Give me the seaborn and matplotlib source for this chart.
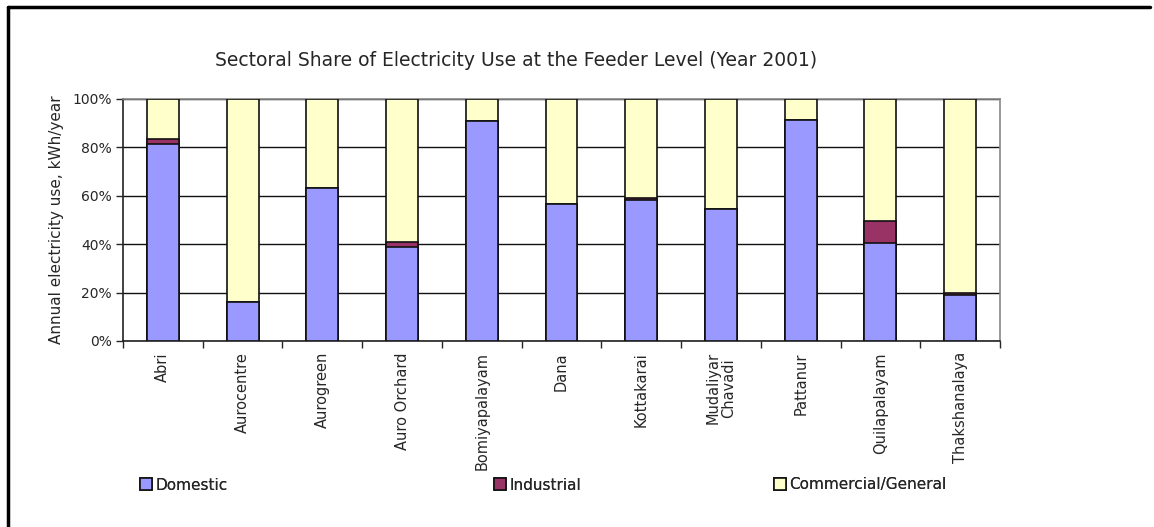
import numpy as np
import pandas as pd
import matplotlib
matplotlib.use("Agg")
import matplotlib.pyplot as plt
from matplotlib.lines import Line2D
from matplotlib.patches import Patch
import seaborn as sns

feeders = ["Abri", "Aurocentre", "Aurogreen", "Auro Orchard", "Bomiyapalayam", "Dana",
           "Kottakarai", "Mudaliyar\nChavadi", "Pattanur", "Quilapalayam", "Thakshanalaya"]
domestic = [81.3, 16.1, 63.4, 38.8, 90.9, 56.5, 58.1, 54.7, 91.5, 40.5, 18.9]
industrial = [2.3, 0.0, 0.0, 2.2, 0.0, 0.0, 1.1, 0.0, 0.0, 8.9, 1.1]
commercial = [round(100 - d - i, 1) for d, i in zip(domestic, industrial)]
y_ticks = [0, 20, 40, 60, 80, 100]
y_tick_labels = ["0%", "20%", "40%", "60%", "80%", "100%"]

c_dom = "#9999ff"
c_ind = "#993366"
c_com = "#ffffcc"

sns.set_style("white")
plt.rcParams['font.family'] = ['DejaVu Sans']

df = pd.DataFrame({"feeder": feeders, "Domestic": domestic,
                   "Industrial": industrial, "Commercial": commercial})
df["lvl2"] = df["Domestic"] + df["Industrial"]
df["lvl3"] = df["lvl2"] + df["Commercial"]

fig = plt.figure(figsize=(11.54, 5.27), dpi=100)
ax = fig.add_axes([123 / 1154, 1 - 341 / 527, 877 / 1154, 242 / 527])

for col, color in [("lvl3", c_com), ("lvl2", c_ind), ("Domestic", c_dom)]:
    sns.barplot(data=df, x="feeder", y=col, color=color, width=0.4,
                edgecolor="#111111", linewidth=1.2, saturation=1, ax=ax, zorder=3)

ax.set_xlim(-0.5, len(feeders) - 0.5)
ax.set_ylim(0, 100)
ax.set_yticks(y_ticks)
ax.set_yticklabels(y_tick_labels, fontsize=10)
ax.yaxis.grid(True, color="#111111", linewidth=1.0, zorder=0)
ax.set_axisbelow(True)
ax.tick_params(axis="y", length=5, width=1, direction="out", left=True, pad=3)

ax.set_xticks(range(len(feeders)))
ax.set_xticklabels(feeders, rotation=90, fontsize=10.5, va="top", ha="center", linespacing=1.0)
ax.tick_params(axis="x", which="major", length=0, pad=8)
ax.set_xticks(np.arange(-0.5, len(feeders), 1), minor=True)
ax.tick_params(axis="x", which="minor", length=5, width=1, direction="out", bottom=True)

ax.set_xlabel("")
ax.set_ylabel("Annual electricity use, kWh/year", fontsize=11, labelpad=6)

for s in ["left", "bottom"]:
    ax.spines[s].set_color("#222222")
    ax.spines[s].set_linewidth(1.2)
for s in ["top", "right"]:
    ax.spines[s].set_visible(True)
    ax.spines[s].set_color("#888888")
    ax.spines[s].set_linewidth(1.2)

fig.text(516 / 1154, 1 - 60 / 527, "Sectoral Share of Electricity Use at the Feeder Level (Year 2001)",
         ha="center", va="center", fontsize=13.5)

# legend entries
entries = [("Domestic", c_dom, 140), ("Industrial", c_ind, 494), ("Commercial/General", c_com, 774)]
for label, color, xpix in entries:
    leg = fig.legend(handles=[Patch(facecolor=color, edgecolor="#111111", linewidth=1.2, label=label)],
                     loc="center left", bbox_to_anchor=(xpix / 1154, 1 - 485 / 527),
                     frameon=False, fontsize=11, handlelength=0.8, handleheight=0.8,
                     handletextpad=0.2, borderpad=0, borderaxespad=0)
    fig.add_artist(leg)

# outer frame (top and left edges)
fig.add_artist(Line2D([8 / 1154, 1150 / 1154], [1 - 7 / 527, 1 - 7 / 527], color="black", linewidth=2.5,
                      transform=fig.transFigure))
fig.add_artist(Line2D([8 / 1154, 8 / 1154], [0.0, 1 - 7 / 527], color="black", linewidth=2.5,
                      transform=fig.transFigure))

fig.savefig("out.png", dpi=100, facecolor="white")
